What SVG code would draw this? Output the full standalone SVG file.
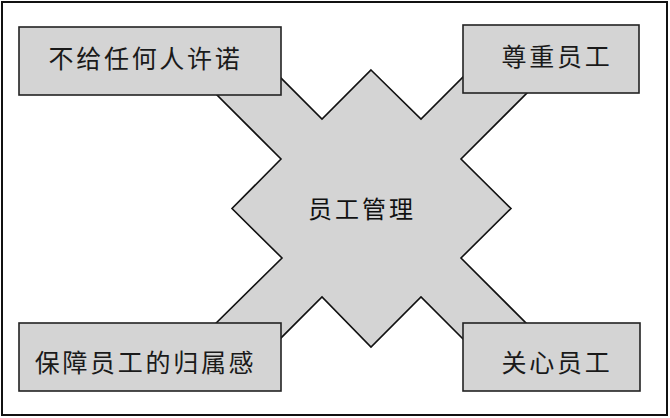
<svg xmlns="http://www.w3.org/2000/svg" width="670" height="418" viewBox="0 0 670 418">
  <style>
    .frame { fill: #ffffff; stroke: #111111; stroke-width: 2; }
    .shape { fill: #d4d4d4; stroke: #111111; stroke-width: 1.6; stroke-linejoin: miter; }
    .box { fill: #d4d4d4; stroke: #222222; stroke-width: 1.6; }
    .lbl { font-family: "Noto Sans CJK SC", "Noto Sans", sans-serif; font-size: 25px; fill: #1a1a1a; text-anchor: middle; letter-spacing: 2.7px; }
    .center { font-family: "Noto Sans CJK SC", "Noto Sans", sans-serif; font-size: 24px; fill: #111111; text-anchor: middle; letter-spacing: 3px; }
  </style>
  <rect class="frame" x="2" y="2" width="665" height="413"/>
  <g id="connectors">
    <path class="shape" d="M371,70 L421,119 L501,39 L541,79 L461,159 L511,208.5 L461,258 L541,338 L501,377 L421,297 L371,347 L322,297 L242,377 L201,338 L282,258 L232,208.5 L281,159 L200,78 L241,38 L322,119 Z"/>
  </g>
  <g id="center">
    <text class="center" x="362" y="218">员工管理</text>
  </g>
  <g id="node-tl">
    <rect class="box" x="19" y="27" width="262" height="68"/>
    <text class="lbl" x="145.5" y="68">不给任何人许诺</text>
  </g>
  <g id="node-tr">
    <rect class="box" x="463" y="25" width="176" height="68"/>
    <text class="lbl" x="557" y="66">尊重员工</text>
  </g>
  <g id="node-bl">
    <rect class="box" x="19" y="323" width="262" height="68"/>
    <text class="lbl" x="145.5" y="372">保障员工的归属感</text>
  </g>
  <g id="node-br">
    <rect class="box" x="463" y="323" width="177" height="68"/>
    <text class="lbl" x="557" y="372">关心员工</text>
  </g>
</svg>
